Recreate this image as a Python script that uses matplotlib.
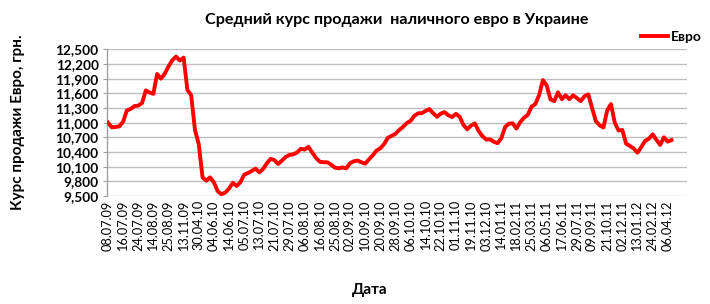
import matplotlib
matplotlib.use("Agg")
import matplotlib.pyplot as plt
import numpy as np
from matplotlib.ticker import FuncFormatter

plt.rcParams['font.family'] = ['Lato', 'DejaVu Sans']

title = "Средний курс продажи  наличного евро в Украине"
ylabel = "Курс продажи Евро, грн."
xlabel = "Дата"
series_name = "Евро"

tick_labels = ["08.07.09", "16.07.09", "24.07.09", "14.08.09", "25.08.09", "13.11.09",
               "30.04.10", "04.06.10", "14.06.10", "05.07.10", "13.07.10", "21.07.10",
               "29.07.10", "06.08.10", "16.08.10", "25.08.10", "02.09.10", "10.09.10",
               "20.09.10", "28.09.10", "06.10.10", "14.10.10", "22.10.10", "01.11.10",
               "19.11.10", "03.12.10", "14.01.11", "18.02.11", "25.03.11", "06.05.11",
               "17.06.11", "29.07.11", "09.09.11", "21.10.11", "02.12.11", "13.01.12",
               "24.02.12", "06.04.12"]

# four readings per labelled interval
euro = [
    11000, 10905, 10910, 10925, 11020, 11250, 11280, 11340,
    11348, 11400, 11660, 11614, 11590, 11995, 11900, 12000,
    12150, 12275, 12350, 12270, 12330, 11670, 11560, 10850,
    10560, 9880, 9815, 9880, 9780, 9600, 9535, 9570,
    9650, 9770, 9705, 9780, 9935, 9970, 10011, 10060,
    9985, 10050, 10170, 10260, 10235, 10155, 10225, 10300,
    10340, 10352, 10390, 10465, 10450, 10505, 10390, 10280,
    10200, 10190, 10190, 10140, 10080, 10066, 10085, 10066,
    10170, 10210, 10225, 10190, 10160, 10250, 10330, 10430,
    10475, 10560, 10690, 10730, 10770, 10850, 10912, 10990,
    11035, 11140, 11190, 11195, 11240, 11278, 11190, 11120,
    11185, 11215, 11150, 11115, 11180, 11120, 10950, 10864,
    10940, 10985, 10830, 10725, 10655, 10659, 10610, 10580,
    10680, 10910, 10980, 10986, 10880, 11010, 11100, 11160,
    11327, 11380, 11565, 11870, 11760, 11477, 11440, 11620,
    11480, 11560, 11480, 11560, 11500, 11440, 11540, 11580,
    11300, 11030, 10945, 10900, 11250, 11380, 11000, 10840,
    10850, 10570, 10523, 10470, 10386, 10500, 10625, 10670,
    10761, 10650, 10545, 10700, 10611, 10645,
]
points_per_label = 4
yticks = [9500, 9800, 10100, 10400, 10700, 11000, 11300, 11600, 11900, 12200, 12500]

W, H = 710, 304
fig = plt.figure(figsize=(W / 100, H / 100), dpi=100)
ax = fig.add_axes([107 / W, 1 - 196 / H, (687 - 107) / W, (196 - 49.3) / H])

x = np.arange(len(euro))
ax.plot(x, euro, color='#FF0000', lw=2.8, solid_joinstyle='round', label=series_name, zorder=3)

ax.set_ylim(yticks[0], yticks[-1])
ax.set_yticks(yticks)
ax.yaxis.set_major_formatter(FuncFormatter(lambda v, p: f"{int(v):,}"))
ax.set_xlim(-0.26, 153.1)
ax.set_xticks(np.arange(len(tick_labels)) * points_per_label)
ax.set_xticklabels(tick_labels, rotation=90, fontsize=9.2, color='black')
ax.tick_params(axis='x', length=0, pad=3)
ax.tick_params(axis='y', length=3, color='#A0A0A0', pad=3, labelsize=9.8)
for lab in ax.get_yticklabels():
    lab.set_fontweight('bold')

ax.grid(axis='y', color='#BEBEBE', lw=1)
ax.set_axisbelow(True)
for s in ['top', 'right', 'bottom']:
    ax.spines[s].set_visible(False)
ax.spines['left'].set_color('#A0A0A0')
ax.spines['left'].set_linewidth(1)

fig.text(397 / W, 1 - 20 / H, title, ha='center', va='center', fontsize=11.6, fontweight='bold')
fig.text(18 / W, 1 - 122 / H, ylabel, ha='center', va='center', rotation=90, fontsize=11, fontweight='bold')
fig.text(370 / W, 1 - 290 / H, xlabel, ha='center', va='center', fontsize=11, fontweight='bold')

leg = fig.legend(loc='center right', bbox_to_anchor=(702 / W, 1 - 37 / H), frameon=False,
                 prop={'weight': 'bold', 'size': 10}, handlelength=2.0, handletextpad=0.2,
                 borderpad=0, borderaxespad=0)

fig.savefig('out.png', dpi=100)
